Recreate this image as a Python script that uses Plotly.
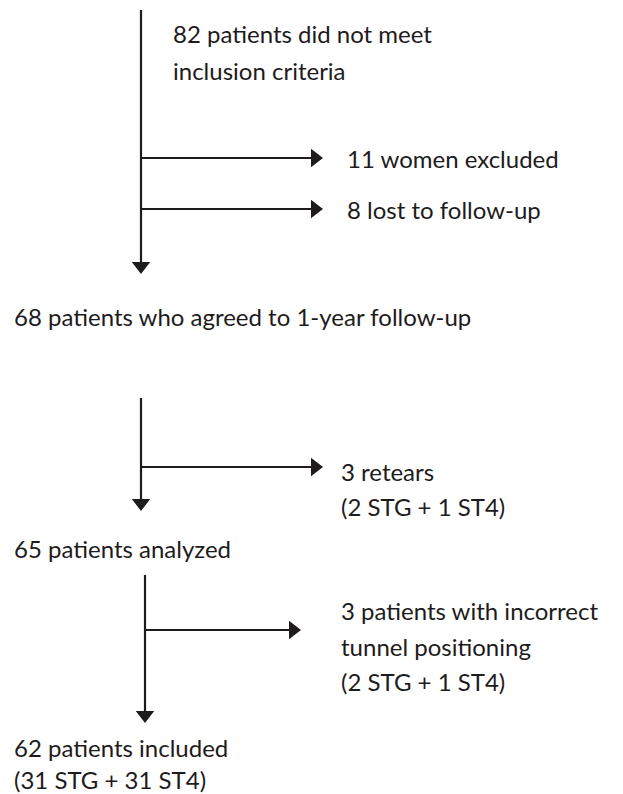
import plotly.graph_objects as go

# ---- data (flow chart content) ----
main_labels = ["68 patients who agreed to 1-year follow-up",
               "65 patients analyzed",
               "62 patients included", "(31 STG + 31 ST4)"]
side_labels = ["82 patients did not meet", "inclusion criteria",
               "11 women excluded", "8 lost to follow-up",
               "3 retears", "(2 STG + 1 ST4)",
               "3 patients with incorrect", "tunnel positioning", "(2 STG + 1 ST4)"]

# ---- layout (pixel positions in the 623x794 window) ----
main_x = [12, 12, 12, 12]
main_y = [316, 548, 747, 779]
side_x = [171, 171, 345, 345, 339, 339, 339, 339, 339]
side_y = [33, 70, 158, 209, 471, 506, 610, 646, 681]

# vertical flow arrows: x, y_start, y_tip
v_x = [141, 141, 145]
v_y0 = [10, 398, 575]
v_y1 = [274, 511, 723]
# horizontal branch arrows: y, x_start, x_tip
h_y = [158, 209, 467, 630]
h_x0 = [141, 141, 141, 145]
h_x1 = [323, 323, 323, 301]

INK = "#1e1b1c"
FONT = "Lato"
FS = 24
HEAD = 16

fig = go.Figure()
for x, y0, y1 in zip(v_x, v_y0, v_y1):
    fig.add_trace(go.Scatter(x=[x, x], y=[y0, y1 - HEAD + 4], mode="lines",
                             line=dict(color=INK, width=2.2), hoverinfo="skip"))
    fig.add_trace(go.Scatter(x=[x], y=[y1 - HEAD / 2], mode="markers",
                             marker=dict(symbol="triangle-down", size=HEAD, color=INK,
                                         line=dict(width=0)), hoverinfo="skip"))
for y, x0, x1 in zip(h_y, h_x0, h_x1):
    fig.add_trace(go.Scatter(x=[x0, x1 - HEAD + 4], y=[y, y], mode="lines",
                             line=dict(color=INK, width=2.2), hoverinfo="skip"))
    fig.add_trace(go.Scatter(x=[x1 - HEAD / 2], y=[y], mode="markers",
                             marker=dict(symbol="triangle-right", size=HEAD, color=INK,
                                         line=dict(width=0)), hoverinfo="skip"))

for t, x, y in list(zip(main_labels, main_x, main_y)) + list(zip(side_labels, side_x, side_y)):
    fig.add_annotation(x=x, y=y, text=t, showarrow=False, xanchor="left", yanchor="middle",
                       font=dict(family=FONT, size=FS, color=INK))

W, H = 623, 794
fig.update_layout(
    width=W, height=H, margin=dict(l=0, r=0, t=0, b=0),
    paper_bgcolor="white", plot_bgcolor="white", showlegend=False,
    xaxis=dict(range=[0, W], visible=False, fixedrange=True),
    yaxis=dict(range=[H, 0], visible=False, fixedrange=True),
)
fig.write_html("out.html", config={"displayModeBar": False},
               post_script="document.body.style.margin='0';document.body.style.overflow='hidden';")
